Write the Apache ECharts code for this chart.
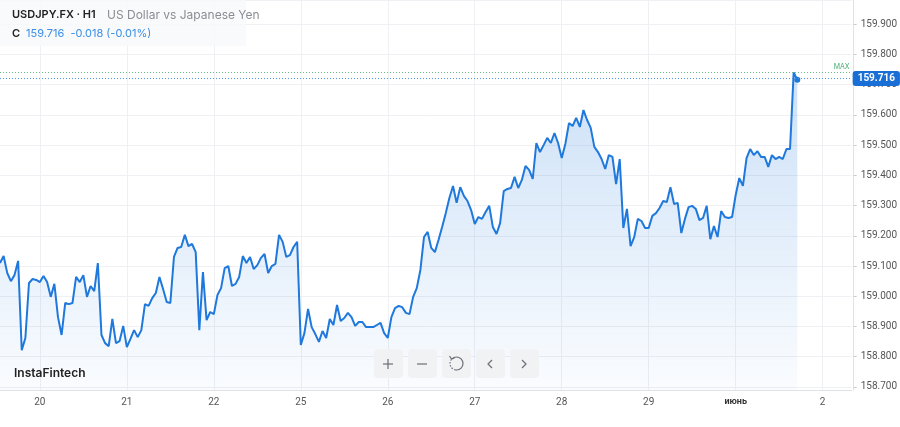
<!DOCTYPE html>
<html>
<head>
<meta charset="utf-8">
<script src="https://cdn.jsdelivr.net/npm/echarts@6/dist/echarts.min.js"></script>
<style>
  html, body { margin: 0; padding: 0; background: #fff; }
  #chart { width: 900px; height: 427px; }
</style>
</head>
<body>
<div id="chart"></div>
<script>
// hourly closes
const closesWeek1 = [
  159.110, 159.133, 159.077, 159.050, 159.070, 159.117, 158.822, 158.862, 159.044, 159.057,
  159.054, 159.047, 159.067, 159.047, 158.998, 159.041, 158.931, 158.872, 158.978, 158.974,
  158.978, 159.064, 159.047, 159.070, 158.998, 159.034, 159.017, 159.110, 158.872, 158.845,
  158.835, 158.925, 158.845, 158.852, 158.902, 158.832, 158.859, 158.888, 158.865, 158.888,
  158.974, 158.968, 158.994, 159.011, 159.064, 159.024, 158.981, 158.978, 159.130, 159.160,
  159.163, 159.203, 159.166, 159.173, 159.146, 158.888, 159.080, 158.921, 158.948, 158.941,
  159.004, 159.027, 159.093, 159.100, 159.034, 159.041, 159.064, 159.133, 159.110, 159.130,
  159.090, 159.103, 159.127, 159.140, 159.077, 159.100, 159.107, 159.203, 159.180, 159.130,
  159.136, 159.163, 159.180
];
const closesWeek2 = [
  158.839, 158.878, 158.958, 158.898, 158.875, 158.849, 158.885, 158.862, 158.925, 158.905,
  158.971, 158.918, 158.928, 158.945, 158.931, 158.902, 158.915, 158.915, 158.898, 158.898,
  158.898, 158.905, 158.912, 158.878, 158.862, 158.931, 158.961, 158.968, 158.964, 158.945,
  158.941, 158.998, 159.027, 159.087, 159.196, 159.213, 159.160, 159.146, 159.186, 159.229,
  159.275, 159.325, 159.365, 159.309, 159.361, 159.332, 159.315, 159.285, 159.239, 159.262,
  159.256, 159.279, 159.299, 159.229, 159.206, 159.242, 159.348, 159.355, 159.358, 159.395,
  159.358, 159.385, 159.431, 159.418, 159.388, 159.507, 159.477, 159.500, 159.524, 159.507,
  159.540, 159.507, 159.457, 159.504, 159.573, 159.563, 159.590, 159.560, 159.616, 159.583,
  159.557, 159.494, 159.477, 159.454, 159.421, 159.467, 159.461, 159.371, 159.454, 159.226,
  159.289, 159.166, 159.196, 159.256, 159.249, 159.226, 159.226, 159.266, 159.275, 159.292,
  159.315, 159.312, 159.361, 159.305, 159.309, 159.209, 159.256, 159.295, 159.299, 159.289,
  159.252, 159.259, 159.299, 159.189, 159.232, 159.196, 159.282, 159.262, 159.259, 159.262,
  159.335, 159.391, 159.365, 159.457, 159.487, 159.467, 159.480, 159.461, 159.461, 159.428,
  159.467, 159.454, 159.461, 159.454, 159.487, 159.487, 159.740, 159.716
];
const closes = closesWeek1.concat(closesWeek2);

const dayTicks = ['20', '21', '22', '25', '26', '27', '28', '29', 'июнь', '2'];
const firstTick = 11;      // hour index of the first day label
const hourCount = 236;     // hours on the axis, incl. empty space on the right

const lastClose = 159.716;
const maxClose = 159.740;

let categories = [];
for (let i = 0; i < hourCount; i++) categories.push(String(i));

function dayLabel(i) {
  if (i < firstTick || (i - firstTick) % 24 !== 0) return null;
  const d = dayTicks[(i - firstTick) / 24];
  return d === undefined ? null : d;
}

const blue = '#1f78dc';
const gridColor = '#eef0f3';

let myChart = echarts.init(document.getElementById('chart'));

// zoom buttons under the chart
let btnGraphics = [];
const btnX = [374, 408, 442, 476, 510];
btnX.forEach(function (x) {
  btnGraphics.push({
    type: 'rect', left: x, top: 349, shape: { width: 29, height: 29, r: 4 },
    style: { fill: '#f1f2f4' }, z: 100
  });
});
const iconStyle = { stroke: '#6b6f76', lineWidth: 1.2, fill: null };
btnGraphics.push(
  { type: 'polyline', shape: { points: [[383, 364], [393, 364]] }, style: iconStyle, z: 101 },
  { type: 'polyline', shape: { points: [[388, 359], [388, 369]] }, style: iconStyle, z: 101 },
  { type: 'polyline', shape: { points: [[417, 364], [427, 364]] }, style: iconStyle, z: 101 },
  { type: 'arc', shape: { cx: 456.5, cy: 363.5, r: 6.5, startAngle: -Math.PI * 0.75, endAngle: Math.PI * 0.55 },
    style: iconStyle, z: 101 },
  { type: 'arc', shape: { cx: 456.5, cy: 363.5, r: 6.5, startAngle: Math.PI * 0.55, endAngle: Math.PI * 1.25 },
    style: { stroke: '#6b6f76', lineWidth: 1.2, fill: null, lineDash: [1.5, 1.5] }, z: 101 },
  { type: 'polyline', shape: { points: [[449.5, 356], [451.5, 359], [454.5, 358]] }, style: iconStyle, z: 101 },
  { type: 'polyline', shape: { points: [[492, 360], [488, 364], [492, 368]] }, style: iconStyle, z: 101 },
  { type: 'polyline', shape: { points: [[522, 360], [526, 364], [522, 368]] }, style: iconStyle, z: 101 }
);

myChart.setOption({
  animation: false,
  textStyle: { fontFamily: 'Inter, Roboto, sans-serif' },
  grid: { left: -1, right: 48, top: 0, bottom: 37, containLabel: false },
  xAxis: {
    type: 'category',
    data: categories,
    boundaryGap: false,
    axisLine: { lineStyle: { color: '#dfe2e7' } },
    axisTick: { show: false },
    axisLabel: {
      interval: function (i) { return dayLabel(i) !== null; },
      formatter: function (v, i) {
        const d = dayLabel(i);
        if (d === 'июнь') return '{b|' + d + '}';
        return d || '';
      },
      color: '#555',
      fontSize: 10,
      fontFamily: 'Roboto, sans-serif',
      margin: 7,
      rich: { b: { fontWeight: 'bold', color: '#333', fontSize: 9, fontFamily: 'Roboto, sans-serif' } }
    },
    splitLine: {
      show: true,
      interval: function (i) { return dayLabel(i) !== null; },
      lineStyle: { color: gridColor }
    }
  },
  yAxis: {
    type: 'value',
    position: 'right',
    offset: 2,
    min: 158.69,
    max: 159.98,
    splitNumber: 13,
    axisLine: { show: true, lineStyle: { color: '#dfe2e7' } },
    axisTick: { show: true, length: 3, lineStyle: { color: '#c8ccd2' } },
    axisLabel: {
      showMinLabel: false,
      showMaxLabel: false,
      margin: 7,
      color: '#555',
      fontSize: 10,
      fontFamily: 'Roboto, sans-serif',
      formatter: function (v) {
        if (Math.abs(v * 10 - Math.round(v * 10)) > 1e-6) return '';
        return v.toFixed(3);
      }
    },
    splitLine: { show: true, lineStyle: { color: gridColor } }
  },
  series: [{
    type: 'line',
    data: closes,
    showSymbol: true,
    showAllSymbol: true,
    symbol: 'circle',
    symbolSize: function (v, p) { return p.dataIndex === closes.length - 1 ? 6 : 0; },
    itemStyle: { color: blue },
    lineStyle: { color: blue, width: 2 },
    areaStyle: {
      color: new echarts.graphic.LinearGradient(0, 0, 0, 1, [
        { offset: 0, color: 'rgba(31,120,220,0.32)' },
        { offset: 1, color: 'rgba(31,120,220,0.03)' }
      ])
    },
    markLine: {
      silent: true,
      symbol: 'none',
      data: [
        {
          yAxis: maxClose,
          lineStyle: { color: '#6cc08b', type: [1, 2], width: 1 },
          label: {
            position: 'insideEndTop', formatter: 'MAX', color: '#4cae74',
            fontSize: 7, distance: [2, 2]
          }
        },
        {
          yAxis: lastClose,
          lineStyle: { color: '#4a90e2', type: [1, 2], width: 1 },
          label: {
            position: 'end', formatter: lastClose.toFixed(3), color: '#fff',
            fontWeight: 'bold', fontSize: 10, fontFamily: 'Roboto, sans-serif',
            backgroundColor: '#1a6fd6', borderRadius: 3, padding: [3, 5, 2, 5], distance: 1
          }
        }
      ]
    }
  }],
  graphic: [
    { type: 'rect', left: 0, top: 0, shape: { width: 246, height: 46 },
      style: { fill: 'rgba(248,249,250,0.85)' }, z: 90 },
    { type: 'text', left: 12, top: 9, z: 91,
      style: { text: 'USDJPY.FX · H1', font: '600 11px Inter, sans-serif', fill: '#222' } },
    { type: 'text', left: 107, top: 9, z: 91,
      style: { text: 'US Dollar vs Japanese Yen', font: '12px Inter, sans-serif', fill: '#8a8d93' } },
    { type: 'text', left: 12, top: 28, z: 91,
      style: { text: 'C', font: '600 11px Inter, sans-serif', fill: '#222' } },
    { type: 'text', left: 26, top: 28, z: 91,
      style: { text: lastClose.toFixed(3) + '  -0.018 (-0.01%)', font: '11px Inter, sans-serif', fill: '#3a8ee6' } },
    { type: 'text', left: 14, top: 367, z: 91,
      style: { text: 'InstaFintech', font: '600 12px Inter, sans-serif', fill: '#222' } }
  ].concat(btnGraphics)
});
</script>
</body>
</html>
